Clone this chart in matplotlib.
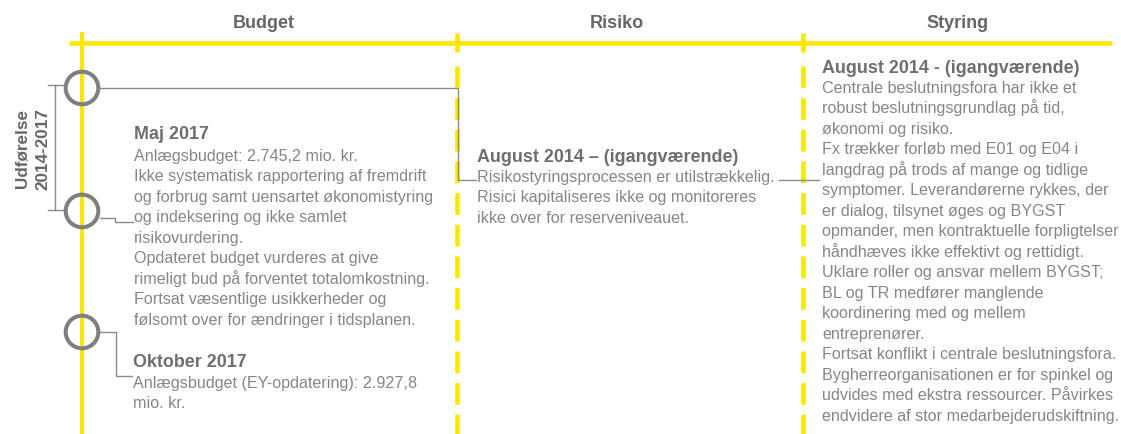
import matplotlib.pyplot as plt
from matplotlib.patches import Circle

plt.rcParams['font.family'] = ['Liberation Sans', 'DejaVu Sans']
plt.rcParams['lines.scale_dashes'] = False

# ---- content ----
sections = ['Budget', 'Risiko', 'Styring']
phase_label = ['Udførelse', '2014-2017']

maj_title = 'Maj 2017'
maj_lines = [
    'Anlægsbudget: 2.745,2 mio. kr.',
    'Ikke systematisk rapportering af fremdrift',
    'og forbrug samt uensartet økonomistyring',
    'og indeksering og ikke samlet',
    'risikovurdering.',
    'Opdateret budget vurderes at give',
    'rimeligt bud på forventet totalomkostning.',
    'Fortsat væsentlige usikkerheder og',
    'følsomt over for ændringer i tidsplanen.',
]

okt_title = 'Oktober 2017'
okt_lines = [
    'Anlægsbudget (EY-opdatering): 2.927,8',
    'mio. kr.',
]

risiko_title = 'August 2014 – (igangværende)'
risiko_lines = [
    'Risikostyringsprocessen er utilstrækkelig.',
    'Risici kapitaliseres ikke og monitoreres',
    'ikke over for reserveniveauet.',
]

styring_title = 'August 2014 - (igangværende)'
styring_lines = [
    'Centrale beslutningsfora har ikke et',
    'robust beslutningsgrundlag på tid,',
    'økonomi og risiko.',
    'Fx trækker forløb med E01 og E04 i',
    'langdrag på trods af mange og tidlige',
    'symptomer. Leverandørerne rykkes, der',
    'er dialog, tilsynet øges og BYGST',
    'opmander, men kontraktuelle forpligtelser',
    'håndhæves ikke effektivt og rettidigt.',
    'Uklare roller og ansvar mellem BYGST;',
    'BL og TR medfører manglende',
    'koordinering med og mellem',
    'entreprenører.',
    'Fortsat konflikt i centrale beslutningsfora.',
    'Bygherreorganisationen er for spinkel og',
    'udvides med ekstra ressourcer. Påvirkes',
    'endvidere af stor medarbejderudskiftning.',
]

# ---- layout (pixels) ----
W, H = 1121, 435
YELLOW = '#FFE600'
HEAD_GREY = '#666666'
TITLE_GREY = '#6e6e6e'
BODY_GREY = '#868686'
LINE_GREY = '#8a8a8a'
RING_GREY = '#7f7f7f'

timeline_x = 82
divider_x = [457, 803]
header_x = [264, 617, 958]
circle_y = [89, 212, 333]
step = 20.5

fig = plt.figure(figsize=(W / 100, H / 100), dpi=100)
ax = fig.add_axes([0, 0, 1, 1])
ax.set_xlim(0, W)
ax.set_ylim(H, 0)
ax.axis('off')

# yellow frame
ax.plot([69, 1112], [43.5, 43.5], color=YELLOW, lw=3.3, solid_capstyle='butt', zorder=1)
ax.plot([timeline_x, timeline_x], [33, H], color=YELLOW, lw=3.0, solid_capstyle='butt', zorder=1)
for x in divider_x:
    ax.plot([x, x], [34, 53], color=YELLOW, lw=3.3, solid_capstyle='butt', zorder=1)
    ax.plot([x, x], [67, H], color=YELLOW, lw=3.3, linestyle=(0, (15.6, 7.2)), zorder=1)

# headers
for name, x in zip(sections, header_x):
    ax.text(x, 28, name, ha='center', va='baseline', fontsize=13,
            fontweight='bold', color=HEAD_GREY)

# circles on the timeline
for y in circle_y:
    ax.add_patch(Circle((timeline_x, y), 16.3, facecolor='none',
                        edgecolor=RING_GREY, lw=2.9, zorder=3))

# bracket for phase
ax.plot([48, 64, None, 55, 55, None, 48, 64],
        [86, 86, None, 86, 211, None, 211, 211], color=LINE_GREY, lw=1.0, zorder=2)
ax.text(27, 149, phase_label[0], rotation=90, rotation_mode='anchor',
        ha='center', va='baseline', fontsize=12.3, fontweight='bold', color=HEAD_GREY)
ax.text(47, 149, phase_label[1], rotation=90, rotation_mode='anchor',
        ha='center', va='baseline', fontsize=12.3, fontweight='bold', color=HEAD_GREY)

# connectors
connectors = [
    ([100, 458, 458, 476], [89, 89, 181, 181]),
    ([779, 819], [181, 181]),
    ([100, 115, 115, 133], [219, 219, 223, 223]),
    ([100, 116, 116, 132], [333, 333, 377, 377]),
]
for xs, ys in connectors:
    ax.plot(xs, ys, color=LINE_GREY, lw=1.0, zorder=2)


def block(x, y_title, title, lines, y_body):
    ax.text(x, y_title, title, va='baseline', fontsize=12.9,
            fontweight='bold', color=TITLE_GREY)
    for i, s in enumerate(lines):
        ax.text(x, y_body + i * step, s, va='baseline', fontsize=11.6, color=BODY_GREY)


block(134, 139, maj_title, maj_lines, 161)
block(133, 367, okt_title, okt_lines, 388)
block(477, 162, risiko_title, risiko_lines, 182)
block(822, 73, styring_title, styring_lines, 93)

fig.savefig('out.png', dpi=100)
